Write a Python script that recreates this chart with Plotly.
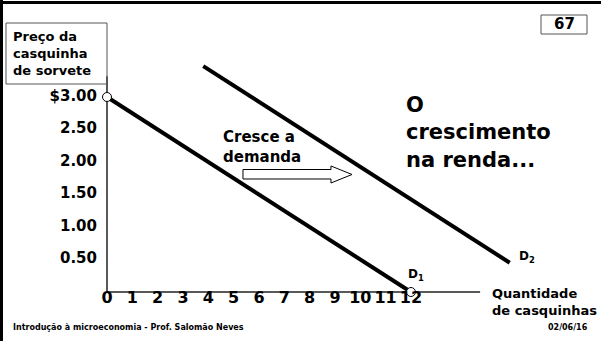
import plotly.graph_objects as go

W, H = 601, 341

# demand curves (price vs quantity)
d1_qty = [0, 12]
d1_price = [3.00, 0.00]
d2_qty = [3.8, 15.9]
d2_price = [3.475, 0.45]

x_ticks = list(range(0, 13))
x_labels = [str(v) for v in x_ticks]
y_ticks = [3.0, 2.5, 2.0, 1.5, 1.0, 0.5]
y_labels = ["$3.00", "2.50", "2.00", "1.50", "1.00", "0.50"]

x_axis_end = 14.73
y_axis_end = 3.32

# pixel scale: x=0 at px 107, 25.33 px per unit; y=0 at px 292, 65 px per unit
X0, SX = 107, 25.33
Y0, SY = 292, 65.0


def px_x(p):
    return (p - X0) / SX


def px_y(p):
    return (Y0 - p) / SY


def pap_x(p):
    return p / W


def pap_y(p):
    return 1 - p / H


BOLD = "DejaVu Sans"

fig = go.Figure()

# axes
fig.add_trace(go.Scatter(x=[0, x_axis_end], y=[0, 0], mode="lines",
                         line=dict(color="#222", width=1.5), hoverinfo="skip"))
fig.add_trace(go.Scatter(x=[0, 0], y=[0, y_axis_end], mode="lines",
                         line=dict(color="#222", width=1.5), hoverinfo="skip"))

# demand lines
fig.add_trace(go.Scatter(x=d1_qty, y=d1_price, mode="lines",
                         line=dict(color="black", width=4), hoverinfo="skip"))
fig.add_trace(go.Scatter(x=d2_qty, y=d2_price, mode="lines",
                         line=dict(color="black", width=4), hoverinfo="skip"))
fig.add_trace(go.Scatter(x=d1_qty, y=d1_price, mode="markers",
                         marker=dict(size=9, color="white", line=dict(color="black", width=1)),
                         hoverinfo="skip"))

# tick labels
fig.add_trace(go.Scatter(x=x_ticks, y=[px_y(299)] * len(x_ticks), mode="text",
                         text=[f"<b>{t}</b>" for t in x_labels], textposition="middle center",
                         textfont=dict(family=BOLD, size=16, color="black"),
                         cliponaxis=False, hoverinfo="skip"))
fig.add_trace(go.Scatter(x=[px_x(97)] * len(y_ticks), y=y_ticks, mode="text",
                         text=[f"<b>{t}</b>" for t in y_labels], textposition="middle left",
                         textfont=dict(family=BOLD, size=15, color="black"),
                         cliponaxis=False, hoverinfo="skip"))


def note(text, x, y, size, xanchor="left", yanchor="middle", align="left"):
    fig.add_annotation(x=pap_x(x), y=pap_y(y), xref="paper", yref="paper",
                       text=text, showarrow=False, xanchor=xanchor, yanchor=yanchor,
                       align=align, font=dict(family=BOLD, size=size, color="black"))


note("<b>Preço da<br>casquinha<br>de sorvete</b>", 11, 54, 13)
note("<b>67</b>", 564, 24, 15, xanchor="center")
note("<b>D<sub>1</sub></b>", 406, 275, 12)
note("<b>D<sub>2</sub></b>", 517, 257, 12)
note("<b>Cresce a<br>demanda</b>", 221, 147, 15)
note("<b>O<br>crescimento<br>na renda...</b>", 404, 132, 21)
note("<b>Quantidade<br>de casquinhas</b>", 490, 302, 13)
note("<b>02/06/16</b>", 568, 327, 8, xanchor="center")
note("<b>Introdução à microeconomia - Prof. Salomão Neves</b>", 11, 327, 8)

shapes = [
    # slide frame
    dict(type="line", xref="paper", yref="paper", x0=0, x1=1, y0=pap_y(2.5), y1=pap_y(2.5),
         line=dict(color="black", width=3)),
    dict(type="line", xref="paper", yref="paper", x0=pap_x(1.5), x1=pap_x(1.5), y0=0, y1=1,
         line=dict(color="black", width=3)),
    # boxes
    dict(type="rect", xref="paper", yref="paper", x0=pap_x(6), x1=pap_x(107),
         y0=pap_y(23), y1=pap_y(84), line=dict(color="#555", width=1)),
    dict(type="rect", xref="paper", yref="paper", x0=pap_x(541), x1=pap_x(587),
         y0=pap_y(15), y1=pap_y(34), line=dict(color="#555", width=1)),
]
arrow = [(243, 169.5), (331, 169.5), (331, 166), (352, 174.5), (331, 183),
         (331, 179), (243, 179)]
path = "M " + " L ".join(f"{pap_x(a):.4f},{pap_y(b):.4f}" for a, b in arrow) + " Z"
shapes.append(dict(type="path", xref="paper", yref="paper", path=path,
                   fillcolor="white", line=dict(color="black", width=1)))

fig.update_layout(
    width=W, height=H, margin=dict(l=0, r=0, t=0, b=0),
    paper_bgcolor="white", plot_bgcolor="white", showlegend=False,
    hovermode=False, shapes=shapes,
    xaxis=dict(range=[px_x(0), px_x(W)], visible=False, fixedrange=True),
    yaxis=dict(range=[px_y(H), px_y(0)], visible=False, fixedrange=True),
)

# page body has a default 8px margin; drop it so the slide fills the window
fig.write_html("out.html", config={"displayModeBar": False},
               post_script="document.body.style.margin='0';document.body.style.overflow='hidden';")
